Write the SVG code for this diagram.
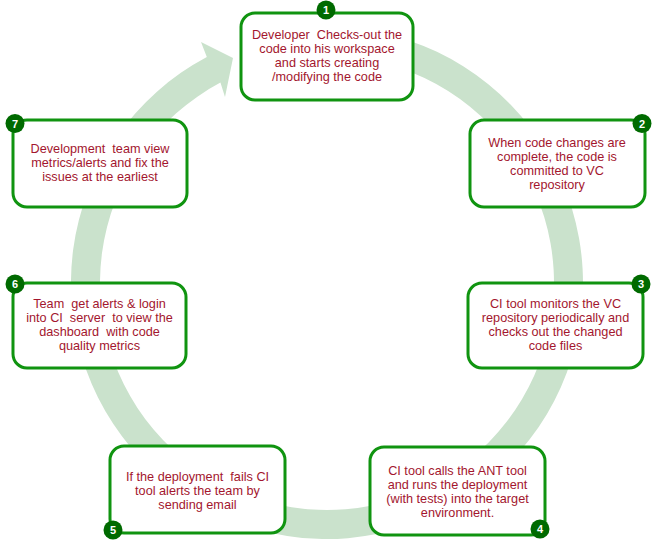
<svg xmlns="http://www.w3.org/2000/svg" width="656" height="544" viewBox="0 0 656 544">
<style>
.box{fill:#ffffff;stroke:#109410;stroke-width:3}
.lbl{font-family:"Liberation Sans",Arial,sans-serif;font-size:12.7px;fill:#a3162e;text-anchor:middle;white-space:pre}
.badge{fill:#006a00}
.num{font-family:"Liberation Sans",Arial,sans-serif;font-size:11px;font-weight:bold;fill:#ffffff;text-anchor:middle}
.ring{fill:#cae2cc}
</style>
<rect width="656" height="544" fill="#ffffff"/>
<g id="connectors">
<path class="ring" d="M349.31,27.98 A256,256 0 1 1 206.82,56.96 L201,42 L233,58 L225,97 L220.43,82.57 A227,227 0 1 0 346.78,56.86 Z"/>
</g>
<g id="node1">
<rect class="box" x="241" y="13" width="172" height="87" rx="14"/>
<text class="lbl"><tspan x="327" y="39">Developer  Checks-out the</tspan><tspan x="327" y="53">code into his workspace</tspan><tspan x="327" y="67">and starts creating</tspan><tspan x="327" y="81">/modifying the code</tspan></text>
<circle class="badge" cx="326" cy="10" r="9.5"/>
<text class="num" x="326" y="14">1</text>
</g>
<g id="node2">
<rect class="box" x="470" y="120" width="175" height="87" rx="14"/>
<text class="lbl"><tspan x="557" y="147">When code changes are</tspan><tspan x="557" y="161">complete, the code is</tspan><tspan x="557" y="175">committed to VC</tspan><tspan x="557" y="189">repository</tspan></text>
<circle class="badge" cx="642" cy="123.5" r="9.5"/>
<text class="num" x="642" y="127.5">2</text>
</g>
<g id="node3">
<rect class="box" x="468" y="283" width="175" height="85" rx="14"/>
<text class="lbl"><tspan x="555.5" y="308">CI tool monitors the VC</tspan><tspan x="555.5" y="322">repository periodically and</tspan><tspan x="555.5" y="336">checks out the changed</tspan><tspan x="555.5" y="350">code files</tspan></text>
<circle class="badge" cx="641" cy="284" r="9.5"/>
<text class="num" x="641" y="288">3</text>
</g>
<g id="node4">
<rect class="box" x="370" y="447" width="175" height="88" rx="14"/>
<text class="lbl"><tspan x="457.5" y="475">CI tool calls the ANT tool</tspan><tspan x="457.5" y="489">and runs the deployment</tspan><tspan x="457.5" y="503">(with tests) into the target</tspan><tspan x="457.5" y="517">environment.</tspan></text>
<circle class="badge" cx="540" cy="529" r="9.5"/>
<text class="num" x="540" y="533">4</text>
</g>
<g id="node5">
<rect class="box" x="110" y="446" width="175" height="87" rx="14"/>
<text class="lbl"><tspan x="197.5" y="481">If the deployment  fails CI</tspan><tspan x="197.5" y="495">tool alerts the team by</tspan><tspan x="197.5" y="509">sending email</tspan></text>
<circle class="badge" cx="113" cy="530" r="9.5"/>
<text class="num" x="113" y="534">5</text>
</g>
<g id="node6">
<rect class="box" x="13" y="283" width="173" height="85" rx="14"/>
<text class="lbl"><tspan x="99.5" y="308">Team  get alerts &amp; login</tspan><tspan x="99.5" y="322">into CI  server  to view the</tspan><tspan x="99.5" y="336">dashboard  with code</tspan><tspan x="99.5" y="350">quality metrics</tspan></text>
<circle class="badge" cx="15" cy="284" r="9.5"/>
<text class="num" x="15" y="288">6</text>
</g>
<g id="node7">
<rect class="box" x="13" y="120" width="174" height="87" rx="14"/>
<text class="lbl"><tspan x="100" y="153">Development  team view</tspan><tspan x="100" y="167">metrics/alerts and fix the</tspan><tspan x="100" y="181">issues at the earliest</tspan></text>
<circle class="badge" cx="15" cy="123.5" r="9.5"/>
<text class="num" x="15" y="127.5">7</text>
</g>
</svg>
